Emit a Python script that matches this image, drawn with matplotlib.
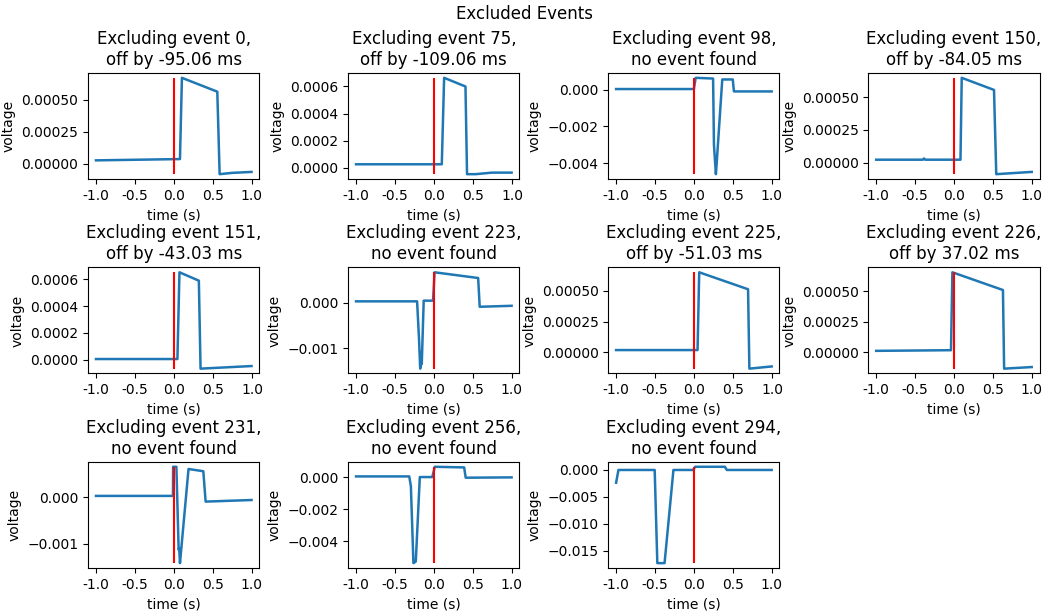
import matplotlib
matplotlib.use('Agg')
import matplotlib.pyplot as plt

events = [0, 75, 98, 150, 151, 223, 225, 226, 231, 256, 294]
offsets_ms = [-95.06, -109.06, None, -84.05, -43.03, None, -51.03, 37.02, None, None, None]

# breakpoints of each trace (time in s, voltage)
t_0 = [-1.0, 0.08, 0.105, 0.56, 0.59, 0.75, 1.0]
v_0 = [0.0000275, 0.0000375, 0.00067, 0.000562, -0.00008, -0.00007, -0.0000625]

t_75 = [-1.0, 0.097, 0.127, 0.40, 0.42, 0.53, 0.74, 0.99]
v_75 = [0.000026, 0.000026, 0.000664, 0.0006, -0.000047, -0.000047, -0.0000356, -0.0000356]

t_98 = [-1.0, 0.0, 0.023, 0.247, 0.258, 0.283, 0.29, 0.365, 0.50, 0.515, 1.0]
v_98 = [0.00003, 0.00003, 0.00064, 0.0006, -0.003, -0.0046, -0.0042, 0.00055, 0.00055, -0.0001, -0.0001]

t_150 = [-1.0, -0.40, -0.385, -0.37, 0.084, 0.10, 0.515, 0.544, 1.0]
v_150 = [0.0000244, 0.0000244, 0.000034, 0.0000244, 0.0000244, 0.000646, 0.000554, -0.0000854, -0.0000683]

t_151 = [-1.0, 0.042, 0.068, 0.316, 0.338, 0.99]
v_151 = [0.000007, 0.000007, 0.00065, 0.000588, -0.0000643, -0.000045]

t_223 = [-1.0, -0.215, -0.19, -0.175, -0.165, -0.155, -0.13, -0.01, 0.01, 0.57, 0.59, 1.0]
v_223 = [0.000035, 0.000035, -0.0008, -0.00145, -0.0011, -0.00135, 0.00005, 0.00005, 0.000676, 0.00055, -0.0000845, -0.0000634]

t_225 = [-1.0, 0.042, 0.063, 0.688, 0.705, 0.99]
v_225 = [0.0000182, 0.0000182, 0.000651, 0.000513, -0.000133, -0.000115]

t_226 = [-1.0, -0.038, -0.02, 0.63, 0.645, 1.0]
v_226 = [0.0000106, 0.0000159, 0.000653, 0.000508, -0.000135, -0.000122]

t_231 = [-1.0, -0.01, -0.008, 0.034, 0.063, 0.07, 0.08, 0.19, 0.38, 0.41, 1.0]
v_231 = [0.000034, 0.000034, 0.000664, 0.000664, -0.00113, -0.00110, -0.00142, 0.000616, 0.000568, -0.000089, -0.0000548]

t_256 = [-1.0, -0.316, -0.295, -0.262, -0.232, -0.18, -0.02, 0.013, 0.39, 0.41, 1.0]
v_256 = [0.00004, 0.00004, -0.00056, -0.00536, -0.00526, 0.0, 0.0, 0.00064, 0.0006, -0.00004, -0.00002]

t_294 = [-1.0, -0.97, -0.504, -0.47, -0.377, -0.263, -0.01, 0.017, 0.398, 0.424, 1.0]
v_294 = [-0.00236, 0.0, 0.0, -0.01725, -0.01725, 0.0, 0.0, 0.00059, 0.00059, 0.0, 0.0]

times = [t_0, t_75, t_98, t_150, t_151, t_223, t_225, t_226, t_231, t_256, t_294]
volts = [v_0, v_75, v_98, v_150, v_151, v_223, v_225, v_226, v_231, v_256, v_294]

xtick_vals = [-1.0, -0.5, 0.0, 0.5, 1.0]
xtick_labels = ['-1.0', '-0.5', '0.0', '0.5', '1.0']

# y ticks as shown in each panel
yt_a = [0.0, 0.00025, 0.0005]
yt_b = [0.0, 0.0002, 0.0004, 0.0006]
yt_c = [0.0, -0.002, -0.004]
yt_d = [0.0, -0.001]
yt_e = [0.0, -0.005, -0.010, -0.015]
yticks = [yt_a, yt_b, yt_c, yt_a, yt_b, yt_d, yt_a, yt_a, yt_d, yt_c, yt_e]

fig, axes = plt.subplots(3, 4, figsize=(10.5, 6.16), dpi=100)
fig.subplots_adjust(left=0.084, right=0.99, top=0.8815, bottom=0.078,
                    wspace=0.52, hspace=0.835)
axes = axes.flatten()

for i, ev in enumerate(events):
    ax = axes[i]
    t = times[i]
    v = volts[i]
    ax.plot(t, v, color='#1f77b4', lw=1.8)
    ax.vlines(0, min(v), max(v), color='red')
    if offsets_ms[i] is None:
        ax.set_title(f'Excluding event {ev},\nno event found')
    else:
        ax.set_title(f'Excluding event {ev},\noff by {offsets_ms[i]:.2f} ms')
    ax.set_xticks(xtick_vals)
    ax.set_xticklabels(xtick_labels)
    ax.set_yticks(yticks[i])
    ax.set_xlabel('time (s)')
    ax.set_ylabel('voltage')

axes[-1].remove()
fig.suptitle('Excluded Events', y=0.992)
fig.savefig('out.png', dpi=100, facecolor='white')
